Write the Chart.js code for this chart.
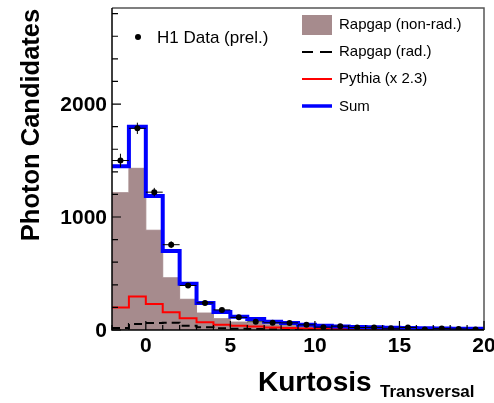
<!DOCTYPE html>
<html>
<head>
<meta charset="utf-8">
<script src="https://cdn.jsdelivr.net/npm/chart.js@4.4.0/dist/chart.umd.min.js"></script>
<style>
    html, body { margin: 0; padding: 0; background: #ffffff; }
</style>
</head>
<body>
<canvas id="kurtosisChart" width="494" height="403"></canvas>
<script>
// Bin edges (width 1) of the transversal kurtosis histogram
const binEdges = [-2, -1, 0, 1, 2, 3, 4, 5, 6, 7, 8, 9, 10, 11, 12, 13, 14, 15, 16, 17, 18, 19, 20];

// H1 data points (bin centres, counts, errors)
const dataCenters = [-1.5, -0.5, 0.5, 1.5, 2.5, 3.5, 4.5, 5.5, 6.5, 7.5, 8.5, 9.5, 10.5, 11.5, 12.5, 13.5, 14.5, 15.5, 16.5, 17.5, 18.5, 19.5];
const dataValues = [1500, 1785, 1220, 755, 394, 240, 178, 112, 72, 64, 63, 46, 25, 34, 22, 23, 15, 22, 4, 13, 9, 4];
const dataErrors = [60, 50, 38, 30, 22, 17, 14, 11, 9, 8, 8, 7, 5, 6, 5, 5, 4, 5, 3, 4, 3, 2];

// Monte Carlo histograms, one value per bin
const rapgapNonRad = [1215, 1431, 883, 462, 272, 150, 100, 70, 60, 46, 39, 29, 24, 18, 18, 16, 13, 12, 10, 9, 7, 7];
const rapgapRad = [18, 53, 62, 65, 38, 24, 15, 10, 8, 6, 5, 4, 3, 3, 2, 2, 2, 1, 1, 1, 1, 1];
const pythiaScaled = [200, 296, 231, 157, 104, 68, 47, 38, 30, 22, 18, 14, 11, 9, 7, 6, 5, 5, 4, 3, 3, 2];
const sumValues = [1450, 1800, 1185, 700, 409, 240, 160, 118, 98, 74, 62, 47, 38, 30, 27, 24, 20, 18, 15, 13, 11, 10];

const xTickLabels = [0, 5, 10, 15, 20];
const yTickLabels = [0, 1000, 2000];

const FONT = "'Liberation Sans', Arial, Helvetica, sans-serif";
const BROWN = '#a68b8d';

// turn per-bin values into step points on the bin edges
function stepPoints(values) {
    const pts = values.map((v, i) => ({ x: binEdges[i], y: v }));
    pts.push({ x: binEdges[values.length], y: values[values.length - 1] });
    return pts;
}

const errorBarPlugin = {
    id: 'errorBars',
    afterDatasetDraw(chart, args) {
        if (args.index !== 0) return;
        const ctx = chart.ctx;
        const xs = chart.scales.x, ys = chart.scales.y;
        ctx.save();
        ctx.strokeStyle = '#000';
        ctx.lineWidth = 1;
        dataCenters.forEach((c, i) => {
            const px = xs.getPixelForValue(c);
            const py = ys.getPixelForValue(dataValues[i]);
            ctx.beginPath();
            ctx.moveTo(xs.getPixelForValue(c - 0.5), py);
            ctx.lineTo(xs.getPixelForValue(c + 0.5), py);
            ctx.moveTo(px, ys.getPixelForValue(dataValues[i] - dataErrors[i]));
            ctx.lineTo(px, ys.getPixelForValue(dataValues[i] + dataErrors[i]));
            ctx.stroke();
        });
        ctx.restore();
    }
};

const framePlugin = {
    id: 'frameAndLegend',
    afterDraw(chart) {
        const ctx = chart.ctx;
        const a = chart.chartArea;
        const xs = chart.scales.x, ys = chart.scales.y;
        ctx.save();

        // frame
        ctx.strokeStyle = '#555';
        ctx.lineWidth = 1.5;
        ctx.beginPath();
        ctx.moveTo(a.left, a.top);
        ctx.lineTo(a.right, a.top);
        ctx.lineTo(a.right, a.bottom);
        ctx.stroke();
        ctx.strokeStyle = '#000';
        ctx.beginPath();
        ctx.moveTo(a.left, a.top);
        ctx.lineTo(a.left, a.bottom);
        ctx.lineTo(a.right, a.bottom);
        ctx.stroke();

        // ticks inside the frame
        ctx.lineWidth = 1.2;
        ctx.beginPath();
        for (let v = 0; v <= ys.max; v += 200) {
            const py = ys.getPixelForValue(v);
            const len = (v % 1000 === 0) ? 9 : 6;
            ctx.moveTo(a.left, py);
            ctx.lineTo(a.left + len, py);
        }
        for (let v = -2; v <= 20; v += 1) {
            const px = xs.getPixelForValue(v);
            const len = (v % 5 === 0) ? 9 : 5;
            ctx.moveTo(px, a.bottom);
            ctx.lineTo(px, a.bottom - len);
        }
        ctx.stroke();

        // tick labels
        ctx.fillStyle = '#000';
        ctx.font = 'bold 21px ' + FONT;
        ctx.textAlign = 'right';
        ctx.textBaseline = 'middle';
        yTickLabels.forEach(v => {
            ctx.fillText(String(v), a.left - 5, ys.getPixelForValue(v) + 1);
        });
        ctx.textAlign = 'center';
        ctx.textBaseline = 'alphabetic';
        xTickLabels.forEach(v => {
            ctx.fillText(String(v), xs.getPixelForValue(v), a.bottom + 22);
        });

        // axis titles
        ctx.save();
        ctx.translate(39, 125);
        ctx.rotate(-Math.PI / 2);
        ctx.font = 'bold 25.5px ' + FONT;
        ctx.fillText('Photon Candidates', 0, 0);
        ctx.restore();
        ctx.textAlign = 'left';
        ctx.font = 'bold 28px ' + FONT;
        ctx.fillText('Kurtosis', 258, 391);
        ctx.font = 'bold 17px ' + FONT;
        ctx.fillText('Transversal', 380, 397);

        // legends
        ctx.beginPath();
        ctx.arc(138, 37, 3, 0, Math.PI * 2);
        ctx.fill();
        ctx.font = '17px ' + FONT;
        ctx.textBaseline = 'middle';
        ctx.fillText('H1 Data (prel.)', 157, 38);

        ctx.fillStyle = BROWN;
        ctx.fillRect(302, 15, 30, 20);
        ctx.strokeStyle = '#000';
        ctx.lineWidth = 2;
        ctx.beginPath();
        ctx.moveTo(302, 52); ctx.lineTo(313, 52);
        ctx.moveTo(320, 52); ctx.lineTo(332, 52);
        ctx.stroke();
        ctx.strokeStyle = '#ff0000';
        ctx.beginPath();
        ctx.moveTo(302, 79); ctx.lineTo(332, 79);
        ctx.stroke();
        ctx.strokeStyle = '#0000ff';
        ctx.lineWidth = 3.5;
        ctx.beginPath();
        ctx.moveTo(302, 106); ctx.lineTo(332, 106);
        ctx.stroke();

        ctx.fillStyle = '#000';
        ctx.font = '15px ' + FONT;
        ctx.fillText('Rapgap (non-rad.)', 339, 25);
        ctx.fillText('Rapgap (rad.)', 339, 52);
        ctx.fillText('Pythia (x 2.3)', 339, 79);
        ctx.fillText('Sum', 339, 107);
        ctx.restore();
    }
};

const ctx = document.getElementById('kurtosisChart').getContext('2d');
new Chart(ctx, {
    type: 'line',
    data: {
        datasets: [{
            label: 'H1 Data (prel.)',
            data: dataCenters.map((c, i) => ({ x: c, y: dataValues[i] })),
            showLine: false,
            pointRadius: 3,
            pointBackgroundColor: '#000',
            pointBorderColor: '#000',
            pointBorderWidth: 0,
            order: 0
        }, {
            label: 'Sum',
            data: stepPoints(sumValues),
            stepped: true,
            borderColor: '#0000ff',
            borderWidth: 4,
            pointRadius: 0,
            fill: false,
            order: 1
        }, {
            label: 'Pythia (x 2.3)',
            data: stepPoints(pythiaScaled),
            stepped: true,
            borderColor: '#ff0000',
            borderWidth: 2,
            pointRadius: 0,
            fill: false,
            order: 2
        }, {
            label: 'Rapgap (rad.)',
            data: stepPoints(rapgapRad),
            stepped: true,
            borderColor: '#000',
            borderWidth: 2,
            borderDash: [8, 5],
            pointRadius: 0,
            fill: false,
            order: 3
        }, {
            label: 'Rapgap (non-rad.)',
            data: stepPoints(rapgapNonRad),
            stepped: true,
            borderColor: BROWN,
            borderWidth: 1,
            backgroundColor: BROWN,
            pointRadius: 0,
            fill: 'origin',
            order: 4
        }]
    },
    options: {
        responsive: false,
        animation: false,
        layout: {
            autoPadding: false,
            padding: { top: 8, right: 10, left: 0, bottom: 0 }
        },
        plugins: {
            legend: { display: false },
            tooltip: { enabled: false }
        },
        scales: {
            x: {
                type: 'linear',
                min: -2,
                max: 20,
                grid: { display: false, drawTicks: false },
                border: { display: false },
                ticks: { display: false },
                afterFit: s => { s.height = 73; }
            },
            y: {
                min: 0,
                max: 2850,
                grid: { display: false, drawTicks: false },
                border: { display: false },
                ticks: { display: false },
                afterFit: s => { s.width = 112; }
            }
        }
    },
    plugins: [errorBarPlugin, framePlugin]
});
</script>
</body>
</html>
